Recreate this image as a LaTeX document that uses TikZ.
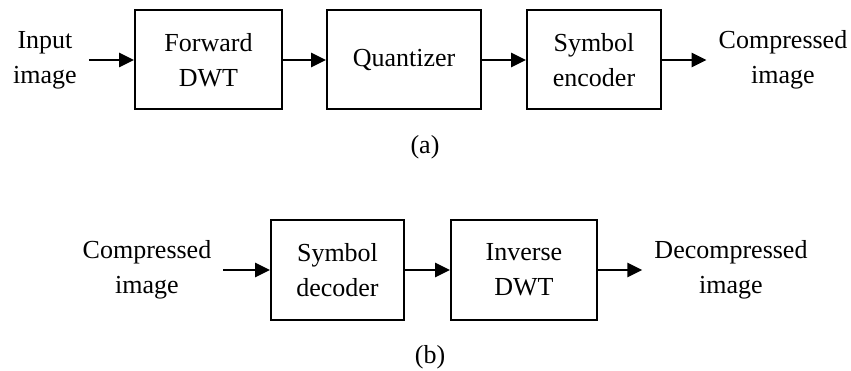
\documentclass[tikz,border=0pt]{standalone}
\usepackage{fontspec}
\setmainfont{Liberation Serif}
\usetikzlibrary{arrows.meta}
\begin{document}
\begin{tikzpicture}[x=1pt,y=-1pt,
  every node/.style={font=\fontsize{26}{35}\selectfont},
  blk/.style={draw,line width=2pt,inner sep=0pt,align=center,minimum height=99pt},
  lbl/.style={align=center,inner ysep=0pt,inner xsep=12pt},
  subcap/.style={inner sep=0pt},
  flow/.style={line width=2.6pt,-{Triangle[length=15pt,width=14pt]}}]
\useasboundingbox (0,0) rectangle (851,371);

% (a) encoder chain
\node[lbl] (in)   at (45,60)  {Input\\image};
\node[blk,minimum width=147pt] (fwd)  at (208.5,60) {Forward\\DWT};
\node[blk,minimum width=154pt] (quan) at (404,60)   {Quantizer};
\node[blk,minimum width=134pt] (enc)  at (594,60)   {Symbol\\encoder};
\node[lbl] (cout) at (783,60) {Compressed\\image};
\node[subcap] (capa) at (425,147) {(a)};

\draw[flow] (in.east) -- (fwd.west);
\draw[flow] (fwd.east) -- (quan.west);
\draw[flow] (quan.east) -- (enc.west);
\draw[flow] (enc.east) -- (cout.west);

% (b) decoder chain
\node[lbl] (cin)  at (147,270) {Compressed\\image};
\node[blk,minimum width=133pt,minimum height=100pt] (dec) at (337.5,270) {Symbol\\decoder};
\node[blk,minimum width=146pt,minimum height=100pt] (inv) at (524,270)   {Inverse\\DWT};
\node[lbl] (dout) at (731,270) {Decompressed\\image};
\node[subcap] (capb) at (430,357) {(b)};

\draw[flow] (cin.east) -- (dec.west);
\draw[flow] (dec.east) -- (inv.west);
\draw[flow] (inv.east) -- (dout.west);
\end{tikzpicture}
\end{document}
